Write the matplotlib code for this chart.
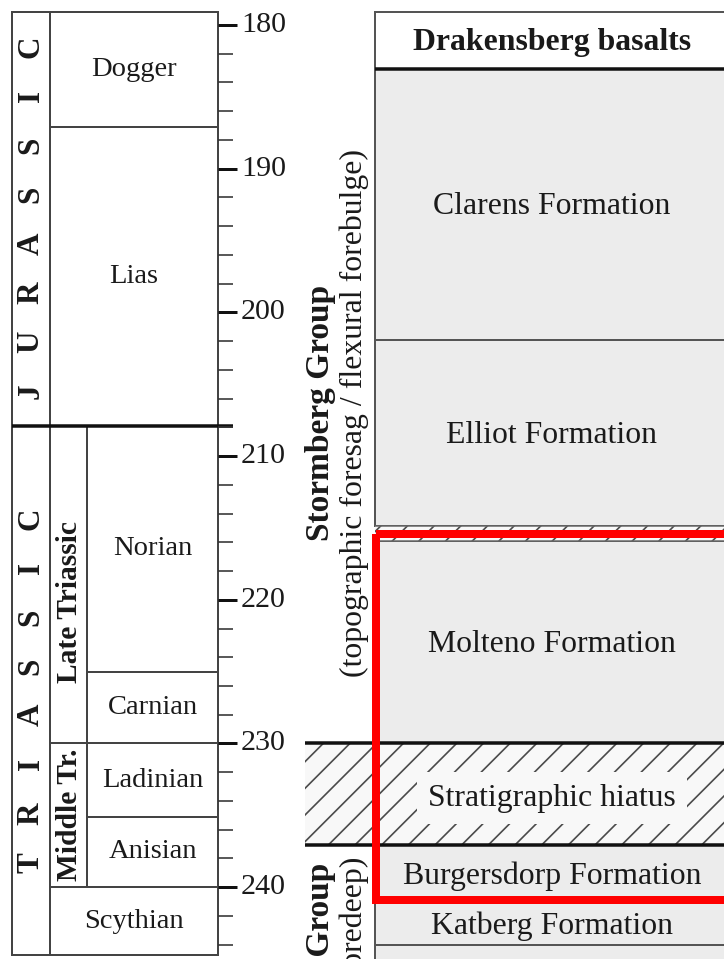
import matplotlib.pyplot as plt
from matplotlib.patches import Rectangle

DPI = 160
plt.rcParams['font.family'] = ['Liberation Serif', 'DejaVu Serif']
plt.rcParams['hatch.linewidth'] = 0.75


def px(v):
    # pixels -> points
    return v * 72 / DPI


# time scale (Ma)
major_ticks = [180, 190, 200, 210, 220, 230, 240]
minor_ticks = [182, 184, 186, 188, 192, 194, 196, 198, 202, 204, 206, 208,
               212, 214, 216, 218, 222, 224, 226, 228, 232, 234, 236, 238,
               242, 244]

# chronostratigraphy
periods = ["JURASSIC", "TRIASSIC"]
period_top = [179.1, 207.9]
period_base = [207.9, 244.75]

epochs = ["Late Triassic", "Middle Tr."]
epoch_top = [207.9, 230.0]
epoch_base = [230.0, 240.0]

stages = ["Dogger", "Lias", "Norian", "Carnian", "Ladinian", "Anisian", "Scythian"]
stage_top = [179.1, 187.1, 207.9, 225.0, 230.0, 235.1, 240.0]
stage_base = [187.1, 207.9, 225.0, 230.0, 235.1, 240.0, 244.75]
stage_wide = [True, True, False, False, False, False, True]

# lithostratigraphy (Karoo)
formations = ["Drakensberg basalts", "Clarens Formation", "Elliot Formation",
              "Molteno Formation", "Burgersdorp Formation", "Katberg Formation", ""]
form_top = [179.1, 183.06, 201.9, 215.9, 237.1, 241.1, 244.0]
form_base = [183.06, 201.9, 214.9, 230.0, 241.1, 244.0, 247.0]

hiatus_labels = ["", "Stratigraphic hiatus"]
hiatus_top = [214.9, 230.0]
hiatus_base = [215.9, 237.1]

groups = ["Stormberg Group", "Beaufort Group"]
group_notes = ["(topographic foresag / flexural forebulge)", "(retroarc foredeep)"]

highlight_top = 215.4
highlight_base = 240.9

fig = plt.figure(figsize=(724 / DPI, 959 / DPI), dpi=DPI)
ax = fig.add_axes([0, 0, 1, 1])
ax.set_xlim(0, 724)
ax.set_ylim(245.0, 178.26)
ax.axis('off')

edge = '#444444'
ink = '#1a1a1a'
lw_thin = px(2)
lw_thick = px(3.5)

# ---- left chart: periods / epochs / stages
x_per, x_epo, x_stg, x_end = 12, 50, 87, 218

for name, t, b in zip(periods, period_top, period_base):
    ax.add_patch(Rectangle((x_per, t), x_epo - x_per, b - t, fc='white', ec=edge, lw=lw_thin))
    mid = (t + b) / 2
    n = len(name)
    for k, ch in enumerate(name):
        ax.text(31, mid + (n / 2 - 0.5 - k) * 3.42, ch, rotation=90, ha='center', va='center',
                fontsize=14, fontweight='bold', color=ink)

for name, t, b in zip(epochs, epoch_top, epoch_base):
    ax.add_patch(Rectangle((x_epo, t), x_stg - x_epo, b - t, fc='white', ec=edge, lw=lw_thin))
    ax.text((x_epo + x_stg) / 2 + 1, (t + b) / 2 + (1.2 if b - t > 15 else 0), name,
            rotation=90, ha='center', va='center', fontsize=13.3, fontweight='bold', color=ink)

for name, t, b, wide in zip(stages, stage_top, stage_base, stage_wide):
    x0 = x_epo if wide else x_stg
    ax.add_patch(Rectangle((x0, t), x_end - x0, b - t, fc='white', ec=edge, lw=lw_thin))
    ax.text((x0 + x_end) / 2, (t + b) / 2, name, ha='center', va='center',
            fontsize=12.8, color=ink)

# Jurassic / Triassic boundary
ax.hlines(period_base[0], x_per, 233, color='#111111', lw=lw_thick)

# age axis
ax.hlines(major_ticks, x_end, 237, color='#111111', lw=px(3))
ax.hlines(minor_ticks, x_end, 233, color='#333333', lw=px(1.6))
for v in major_ticks:
    ax.text(241, v, str(v), ha='left', va='center', fontsize=13.5, color=ink)

# ---- right chart: formations
x_col, x_right, x_hia = 375, 740, 305
gray = '#ececec'

for i, (name, t, b) in enumerate(zip(formations, form_top, form_base)):
    fc = 'white' if i == 0 else gray
    ax.add_patch(Rectangle((x_col, t), x_right - x_col, b - t, fc=fc, ec='#555555', lw=lw_thin))
    if name:
        ax.text(552, (t + b) / 2 + 0.15, name, ha='center', va='center', fontsize=14.3,
                fontweight='bold' if i == 0 else 'normal', color=ink)

for name, t, b in zip(hiatus_labels, hiatus_top, hiatus_base):
    x0 = x_hia if name else x_col
    ax.add_patch(Rectangle((x0, t), x_right - x0, b - t, fc='#f8f8f8', ec='#4a4a4a',
                           lw=0, hatch='//'))
    ax.hlines([t, b], x0, x_right, color='#111111' if name else '#666666',
              lw=lw_thick if name else px(1.5))
    if name:
        ax.text(552, (t + b) / 2 + 0.25, name, ha='center', va='center', fontsize=14.3,
                color=ink, bbox=dict(fc='#f8f8f8', ec='none', pad=5))

# base of Drakensberg basalts
ax.hlines(form_base[0], x_col, x_right, color='#111111', lw=lw_thick)

# group labels
ax.text(320, 207.0, groups[0], rotation=90, ha='center', va='center',
        fontsize=15, fontweight='bold', color=ink)
ax.text(354, 207.0, group_notes[0], rotation=90, ha='center', va='center',
        fontsize=14.3, color=ink)
ax.text(320, 238.3, groups[1], rotation=90, rotation_mode='anchor', ha='right', va='center',
        fontsize=15, fontweight='bold', color=ink)
ax.text(354, 237.9, group_notes[1], rotation=90, rotation_mode='anchor', ha='right', va='center',
        fontsize=14.3, color=ink)

# red highlight box
ax.add_patch(Rectangle((376, highlight_top), 400, highlight_base - highlight_top,
                       fill=False, ec='#ff0000', lw=px(8), zorder=5))

fig.savefig('out.png', dpi=DPI)
